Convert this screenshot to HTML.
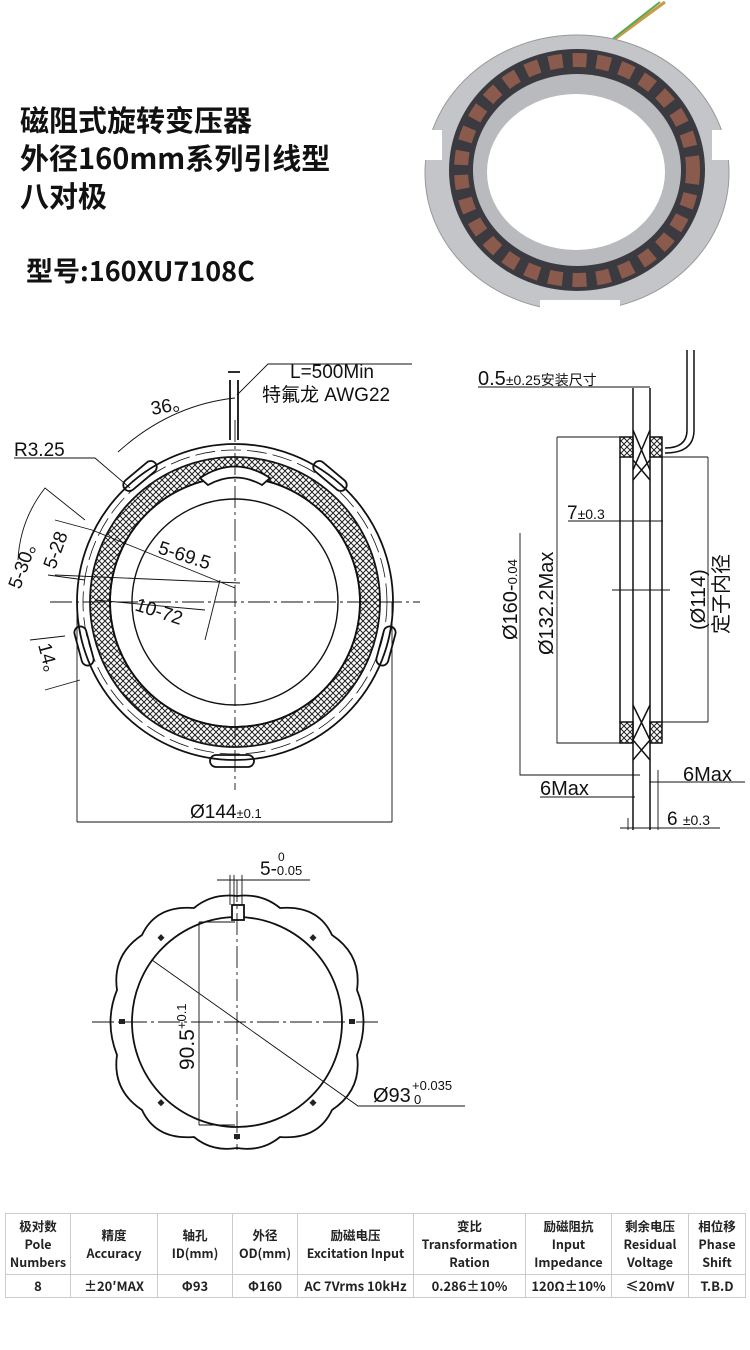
<!DOCTYPE html>
<html><head><meta charset="utf-8"><style>
body{margin:0;width:750px;height:1350px;background:#fff;overflow:hidden;font-family:"Liberation Sans","Noto Sans CJK SC",sans-serif;position:relative}
.t{position:absolute;font-weight:bold;color:#111;font-family:"Noto Sans CJK SC","WenQuanYi Zen Hei",sans-serif}
table{position:absolute;left:5px;top:1213px;width:740px;border-collapse:collapse;table-layout:fixed;font-family:"Noto Sans CJK SC",sans-serif;font-weight:bold;font-size:12.5px;color:#222;text-align:center}
td{border:1px solid #ccc;padding:0;line-height:18px;white-space:nowrap;overflow:hidden}
tr.h td{height:60px}
tr.v td{height:22px;font-size:13px}
svg text{font-family:"Liberation Sans","Noto Sans CJK SC",sans-serif;fill:#111}
</style></head><body>
<div class="t" style="left:20px;top:100px;font-size:29px;line-height:38px">磁阻式旋转变压器<br>外径160mm系列引线型<br>八对极</div>
<div class="t" style="left:26px;top:250px;font-size:27px">型号:160XU7108C</div>

<svg width="750" height="1350" style="position:absolute;left:0;top:0">
<defs>
<pattern id="hx" width="6" height="6" patternUnits="userSpaceOnUse"><path d="M0 0L6 6M6 0L0 6" stroke="#222" stroke-width="1"/></pattern>
</defs>
<!-- photo -->
<g>
<line x1="600" y1="50" x2="665" y2="2" stroke="#c94" stroke-width="3"/>
<line x1="596" y1="52" x2="660" y2="2" stroke="#5a5" stroke-width="2"/>
<ellipse cx="577" cy="173" rx="152" ry="138" fill="#c4c5c8" stroke="#999"/>
<rect x="420" y="130" width="22" height="30" fill="#fff"/><rect x="712" y="130" width="22" height="30" fill="#fff"/>
<rect x="540" y="300" width="80" height="20" fill="#fff"/>
<ellipse cx="577" cy="170" rx="128" ry="121" fill="#3a3a40"/>
<ellipse cx="577" cy="170" rx="116" ry="110" fill="none" stroke="#8a5a4c" stroke-width="14" stroke-dasharray="14 10"/>
<ellipse cx="577" cy="170" rx="104" ry="96" fill="#b9babd"/>
<ellipse cx="576" cy="172" rx="89" ry="78" fill="#fff"/>
</g>

<!-- main front view -->
<g fill="none" stroke="#111" stroke-width="1.8">
<circle cx="235" cy="602" r="158"/>
<circle cx="235" cy="602" r="145"/>
<circle cx="235" cy="602" r="145" fill="url(#hx)" stroke="none"/>
<circle cx="235" cy="602" r="125" fill="#fff"/>
<circle cx="235" cy="602" r="125"/>
<circle cx="235" cy="602" r="103" stroke-width="1.4"/>
<circle cx="235" cy="602" r="152" stroke-width="0.8" stroke-dasharray="20 6"/>
<path d="M200 478 Q235 455 270 478 L262 485 Q235 470 208 485Z" fill="#fff"/>
<rect x="120" y="470" width="40" height="12" rx="6" transform="rotate(-40 140 476)"/>
<rect x="310" y="470" width="40" height="12" rx="6" transform="rotate(40 330 476)"/>
<rect x="64" y="640" width="40" height="12" rx="6" transform="rotate(75 84 646)"/>
<rect x="366" y="640" width="40" height="12" rx="6" transform="rotate(-75 386 646)"/>
<rect x="210" y="755" width="44" height="12" rx="6"/>
<path d="M230 380 v60 M238 380 v60 M228 372 h12"/>
</g>
<g stroke="#111" stroke-width="0.9" fill="none">
<path d="M50 602 H420 M235 420 V790" stroke-dasharray="22 4 3 4"/>
<path d="M77 602 V822 M392 602 V822 M77 822 H392"/>
<path d="M237 395 L268 364 H412"/>
<path d="M118 452 Q170 405 235 398"/>
<path d="M14 458 H95 L130 488"/>
<path d="M18 560 Q20 520 45 488 L85 520"/>
<path d="M55 520 L92 530 M48 575 L85 580"/>
<path d="M92 530 L235 588 M55 575 L240 583"/>
<path d="M205 610 L95 600 M205 640 L220 580"/>
<path d="M30 640 L65 636 M45 690 L80 680"/>
</g>
<text x="290" y="378" font-size="19">L=500Min</text>
<text x="262" y="401" font-size="19">特氟龙 AWG22</text>
<text x="152" y="415" font-size="19" transform="rotate(-10 152 415)">36。</text>
<text x="14" y="456" font-size="19">R3.25</text>
<text x="20" y="590" font-size="19" transform="rotate(-70 20 590)">5-30。</text>
<text x="55" y="570" font-size="19" transform="rotate(-70 55 570)">5-28</text>
<text x="157" y="553" font-size="19" transform="rotate(18 157 553)">5-69.5</text>
<text x="134" y="610" font-size="19" transform="rotate(18 134 610)">10-72</text>
<text x="38" y="645" font-size="19" transform="rotate(75 38 645)">14。</text>
<text x="190" y="818" font-size="19">Ø144<tspan font-size="13">±0.1</tspan></text>

<!-- side view -->
<g stroke="#111" fill="none" stroke-width="1.5">
<path d="M633 388 V830 M650 388 V830"/>
<rect x="620" y="437" width="13" height="20" fill="url(#hx)"/><rect x="650" y="437" width="12" height="20" fill="url(#hx)"/>
<rect x="620" y="722" width="13" height="21" fill="url(#hx)"/><rect x="650" y="722" width="12" height="21" fill="url(#hx)"/>
<path d="M620 457 V722 M662 457 V722"/>
<path d="M633 430 L650 470 M650 430 L633 470 M633 460 L650 480 M650 460 L633 480"/>
<path d="M633 705 L650 740 M650 705 L633 740 M633 740 L650 760 M650 740 L633 760"/>
<path d="M687 350 V400 M694 350 V400 M687 400 V430 Q687 448 665 448 M694 400 V430 Q694 453 665 453"/>
</g>
<g stroke="#111" fill="none" stroke-width="0.9">
<path d="M478 387 H650 M557 437 H620 M557 437 V743 H620 M520 533 V775 H640 M708 457 V722 M662 457 H708 M662 722 H708"/>
<path d="M568 521 H663 M612 590 H670 M540 797 H635 M650 782 H745 M620 828 H720 M628 818 V830 M658 770 V830"/>
</g>
<text x="478" y="385" font-size="20">0.5<tspan font-size="14">±0.25安装尺寸</tspan></text>
<text x="567" y="519" font-size="19">7<tspan font-size="14">±0.3</tspan></text>
<text x="517" y="640" font-size="20" transform="rotate(-90 517 640)">Ø160-<tspan font-size="13">0.04</tspan></text>
<text x="553" y="655" font-size="20" transform="rotate(-90 553 655)">Ø132.2Max</text>
<text x="705" y="630" font-size="20" transform="rotate(-90 705 630)">(Ø114)</text>
<text x="728" y="634" font-size="20" transform="rotate(-90 728 634)">定子内径</text>
<text x="540" y="795" font-size="20">6Max</text>
<text x="683" y="781" font-size="20">6Max</text>
<text x="667" y="825" font-size="19">6 <tspan font-size="14">±0.3</tspan></text>

<!-- bottom view -->
<g stroke="#111" fill="none" stroke-width="1.8">
<path d="M237 896 Q262 893 280 908 Q318 905 332 935 Q362 955 357 990 Q370 1022 357 1055 Q362 1090 332 1110 Q318 1140 280 1137 Q262 1152 237 1148 Q212 1152 194 1137 Q156 1140 142 1110 Q112 1090 117 1055 Q104 1022 117 990 Q112 955 142 935 Q156 905 194 908 Q212 893 237 896Z"/>
<circle cx="237" cy="1022" r="105"/>
<rect x="232" y="905" width="12" height="15" fill="#fff"/>
</g>
<g stroke="#111" fill="none" stroke-width="0.9">
<path d="M92 1022 H382 M237 880 V1150" stroke-dasharray="22 4 3 4"/>
<path d="M230 875 V905 M234 875 V905 M242 875 V905 M217 880 H310"/>
<path d="M199 922 V1125 M199 922 H235 M199 1125 H235"/>
<path d="M152 960 L358 1106 H465"/>
</g>
<g fill="#222"><rect x="159" y="935" width="5" height="5" transform="rotate(45 161 937)"/><rect x="311" y="935" width="5" height="5" transform="rotate(45 313 937)"/><rect x="159" y="1100" width="5" height="5" transform="rotate(45 161 1102)"/><rect x="311" y="1100" width="5" height="5" transform="rotate(45 313 1102)"/><rect x="119" y="1019" width="6" height="5"/><rect x="349" y="1019" width="6" height="5"/><rect x="234" y="1134" width="6" height="5"/></g>
<text x="260" y="875" font-size="19">5-<tspan font-size="13">0.05</tspan></text>
<text x="278" y="861" font-size="12">0</text>
<text x="194" y="1070" font-size="21" transform="rotate(-90 194 1070)">90.5<tspan font-size="13" dy="-8">+0.1</tspan></text>
<text x="373" y="1102" font-size="20">Ø93</text>
<text x="412" y="1090" font-size="13">+0.035</text>
<text x="414" y="1104" font-size="13">0</text>
</svg>

<table>
<colgroup><col style="width:65px"><col style="width:87px"><col style="width:75px"><col style="width:65px"><col style="width:116px"><col style="width:112px"><col style="width:86px"><col style="width:77px"><col style="width:57px"></colgroup>
<tr class="h"><td>极对数<br>Pole<br>Numbers</td><td>精度<br>Accuracy</td><td>轴孔<br>ID(mm)</td><td>外径<br>OD(mm)</td><td>励磁电压<br>Excitation Input</td><td>变比<br>Transformation<br>Ration</td><td>励磁阻抗<br>Input<br>Impedance</td><td>剩余电压<br>Residual<br>Voltage</td><td>相位移<br>Phase<br>Shift</td></tr>
<tr class="v"><td>8</td><td>±20′MAX</td><td>Φ93</td><td>Φ160</td><td>AC 7Vrms 10kHz</td><td>0.286±10%</td><td>120Ω±10%</td><td>≤20mV</td><td>T.B.D</td></tr>
</table>
</body></html>
